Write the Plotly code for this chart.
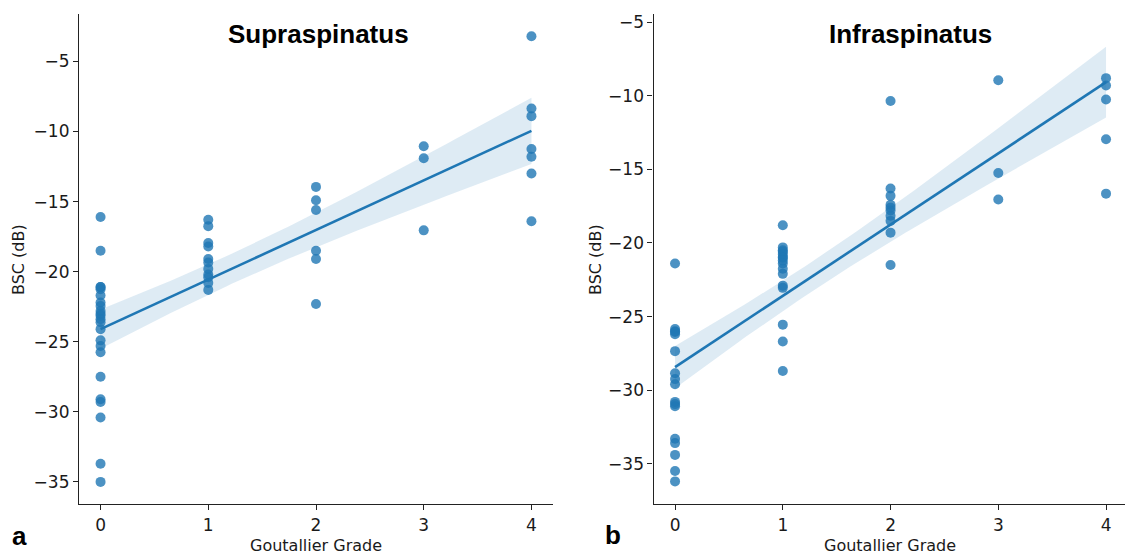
import numpy as np
import plotly.graph_objects as go

# Goutallier grade categories on the x axis
GRADES = [0, 1, 2, 3, 4]

# Backscatter coefficient (dB) per grade, supraspinatus
SUP_G0 = [-16.1, -18.5, -21.1, -21.1, -21.25, -21.7, -22.2, -22.45, -22.8, -23.0, -23.15,
          -23.4, -23.6, -24.1, -24.9, -25.3, -25.75, -27.5, -29.1, -29.3, -30.4, -33.7, -35.0]
SUP_G1 = [-16.3, -16.75, -17.95, -18.2, -19.1, -19.35, -19.8, -20.2, -20.4, -20.8, -21.3]
SUP_G2 = [-13.95, -14.9, -15.6, -18.5, -19.1, -22.3]
SUP_G3 = [-11.05, -11.9, -17.05]
SUP_G4 = [-3.2, -8.35, -8.9, -11.25, -11.8, -13.0, -16.4]

# Backscatter coefficient (dB) per grade, infraspinatus
INF_G0 = [-21.4, -25.85, -26.0, -26.05, -26.2, -27.35, -28.85, -29.25, -29.6, -30.8, -30.95,
          -31.1, -33.3, -33.6, -34.4, -35.5, -36.2]
INF_G1 = [-18.8, -20.3, -20.5, -20.6, -20.75, -20.95, -21.0, -21.2, -21.4, -21.75, -22.1,
          -22.9, -23.05, -25.55, -26.7, -28.7]
INF_G2 = [-10.35, -16.3, -16.8, -17.4, -17.6, -17.8, -18.15, -18.5, -19.3, -21.5]
INF_G3 = [-8.95, -15.25, -17.05]
INF_G4 = [-8.8, -9.3, -10.25, -12.95, -16.65]

Y_TICKS = [-35, -30, -25, -20, -15, -10, -5]
TITLES = ["Supraspinatus", "Infraspinatus"]
PANEL_TAGS = ["a", "b"]
X_LABEL = "Goutallier Grade"
Y_LABEL = "BSC (dB)"

T95 = 2.012  # two-sided 95% t quantile for ~48 residual degrees of freedom

BLUE = "#1f77b4"
W, H = 1125, 557


def flatten(groups):
    xs, ys = [], []
    for g, vals in zip(GRADES, groups):
        xs += [g] * len(vals)
        ys += vals
    return np.array(xs, float), np.array(ys, float)


def regression(x, y):
    n = len(x)
    slope, icpt = np.polyfit(x, y, 1)
    grid = np.linspace(x.min(), x.max(), 100)
    fit = icpt + slope * grid
    resid = y - (icpt + slope * x)
    s = np.sqrt(np.sum(resid ** 2) / (n - 2))
    sxx = np.sum((x - x.mean()) ** 2)
    se = s * np.sqrt(1.0 / n + (grid - x.mean()) ** 2 / sxx)
    return grid, fit, fit - T95 * se, fit + T95 * se


panels = [
    flatten([SUP_G0, SUP_G1, SUP_G2, SUP_G3, SUP_G4]),
    flatten([INF_G0, INF_G1, INF_G2, INF_G3, INF_G4]),
]

fig = go.Figure()
for i, (x, y) in enumerate(panels):
    xa = "x" if i == 0 else "x2"
    ya = "y" if i == 0 else "y2"
    grid, fit, lo, hi = regression(x, y)
    fig.add_trace(go.Scatter(x=x, y=y, mode="markers", xaxis=xa, yaxis=ya,
                             marker=dict(size=10, color=BLUE, opacity=0.8, line=dict(width=0)),
                             hoverinfo="skip"))
    fig.add_trace(go.Scatter(x=grid, y=hi, mode="lines", xaxis=xa, yaxis=ya,
                             line=dict(width=0), hoverinfo="skip"))
    fig.add_trace(go.Scatter(x=grid, y=lo, mode="lines", xaxis=xa, yaxis=ya,
                             line=dict(width=0), fill="tonexty",
                             fillcolor="rgba(31,119,180,0.15)", hoverinfo="skip"))
    fig.add_trace(go.Scatter(x=grid, y=fit, mode="lines", xaxis=xa, yaxis=ya,
                             line=dict(color=BLUE, width=2.6), hoverinfo="skip"))

tick_font = dict(family="DejaVu Sans", size=17, color="#1a1a1a")
axis_common = dict(showgrid=False, zeroline=False, showline=True, linecolor="#222",
                   linewidth=1.2, ticks="outside", ticklen=5, tickwidth=1.2,
                   tickcolor="#222", tickfont=tick_font)

y_dom = [53 / H, 545 / H]
fig.update_layout(
    width=W, height=H, margin=dict(l=0, r=0, t=0, b=0),
    paper_bgcolor="white", plot_bgcolor="white", showlegend=False,
    xaxis=dict(domain=[79 / W, 553 / W], range=[-0.2, 4.2], tickvals=GRADES,
               anchor="y", **axis_common),
    yaxis=dict(domain=y_dom, range=[-36.59, -1.61], tickvals=Y_TICKS,
               tickformat="d", anchor="x", **axis_common),
    xaxis2=dict(domain=[653.5 / W, 1.0], range=[-0.2, 4.176], tickvals=GRADES,
                anchor="y2", **axis_common),
    yaxis2=dict(domain=y_dom, range=[-37.75, -4.44], tickvals=Y_TICKS,
                tickformat="d", anchor="x2", **axis_common),
)

label_font = dict(family="DejaVu Sans", size=16, color="#1a1a1a")
title_font = dict(family="Liberation Sans, Arial", size=26, color="black")


def px(xp, yp):
    return xp / W, 1 - yp / H


notes = []
for (tx, ty), text in zip([(318, 32), (910.5, 32)], TITLES):
    ax, ay = px(tx, ty)
    notes.append(dict(x=ax, y=ay, text=f"<b>{text}</b>", font=title_font))
for (tx, ty), text in zip([(19.5, 536), (612.6, 535)], PANEL_TAGS):
    ax, ay = px(tx, ty)
    notes.append(dict(x=ax, y=ay, text=f"<b>{text}</b>", font=title_font))
for tx in (316, 890):
    ax, ay = px(tx, 545)
    notes.append(dict(x=ax, y=ay, text=X_LABEL, font=label_font))
for tx in (18, 595):
    ax, ay = px(tx, 259)
    notes.append(dict(x=ax, y=ay, text=Y_LABEL, font=label_font, textangle=-90))

for n in notes:
    n.update(xref="paper", yref="paper", showarrow=False, xanchor="center", yanchor="middle")
fig.update_layout(annotations=notes)

fig.write_html("out.html")
